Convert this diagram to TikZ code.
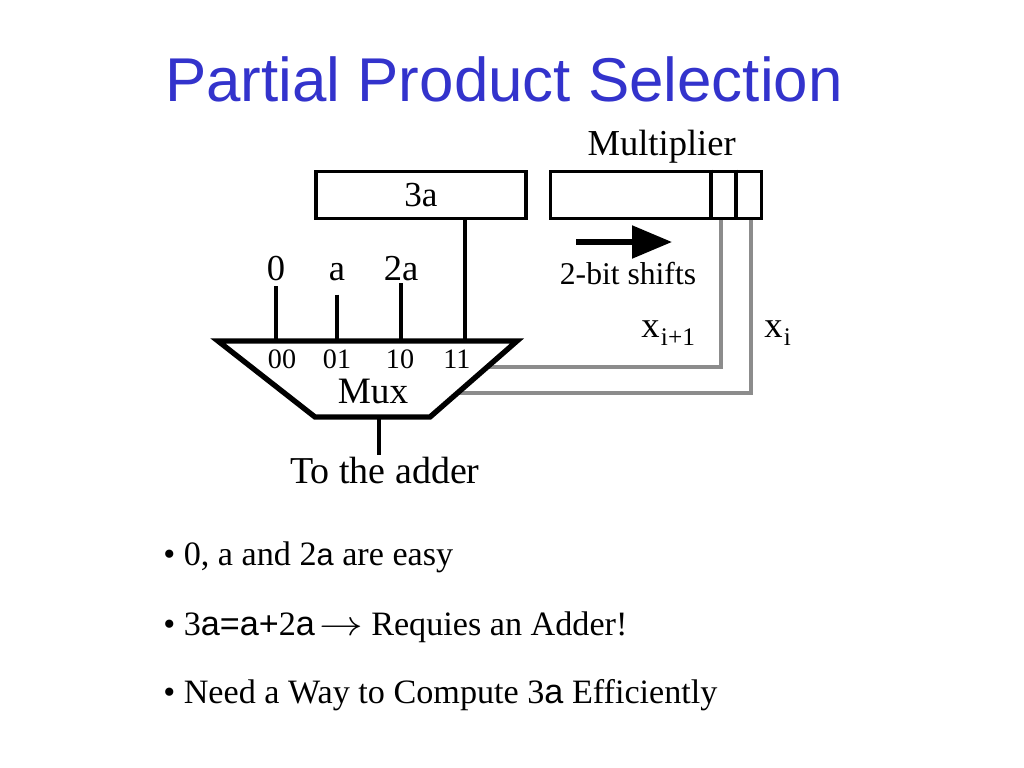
\documentclass[tikz,border=0pt]{standalone}
\usepackage{fontspec}
\setmainfont{Liberation Serif}
\newfontfamily\titlefont{Liberation Sans}
\newfontfamily\sansa{Liberation Sans}[Scale=0.9]
\newfontfamily\sansb{Liberation Sans}
\usepackage{xcolor}
\usetikzlibrary{arrows.meta, positioning, calc}
\definecolor{titleblue}{RGB}{51,51,204}
\definecolor{wiregray}{RGB}{140,140,140}

\begin{document}
\begin{tikzpicture}[x=0.025cm, y=-0.025cm, line join=miter,
    regbox/.style={draw, line width=2.6pt, inner sep=0pt, minimum height=1.175cm},
    wire/.style={line width=2.8pt},
    selwire/.style={line width=2.8pt, wiregray},
    lbl/.style={font=\fontsize{26}{26}\selectfont, inner sep=1pt},
    sellbl/.style={font=\fontsize{20}{20}\selectfont, inner sep=0pt},
    bulletline/.style={anchor=base west, inner sep=0pt, font=\fontsize{24.3}{24.3}\selectfont}]
  \useasboundingbox (0,0) rectangle (1024,768);
  % Titel
  \node[anchor=base, inner sep=0pt, font=\titlefont\fontsize{44}{44}\selectfont, text=titleblue] (title) at (504,102) {Partial Product Selection};
  % Register 3a und Multiplier
  \node[regbox, minimum width=5.25cm, font=\fontsize{25}{25}\selectfont] (threea) at (421,195) {3a};
  \node[regbox, minimum width=5.275cm] (mult) at (656,195) {};
  \node[lbl, above=4pt of mult, xshift=4pt, inner sep=0pt] (multlbl) {Multiplier};
  \draw[wire] ($(mult.north east)+(-52,0)$) -- ($(mult.south east)+(-52,0)$);
  \draw[wire] ($(mult.north east)+(-27,0)$) -- ($(mult.south east)+(-27,0)$);
  \coordinate (xbit1) at ($(mult.south east)+(-42,0)$);
  \coordinate (xbit0) at ($(mult.south east)+(-12,0)$);
  % Schiebepfeil
  \coordinate (sa) at (576,242);
  \coordinate (sb) at (672,242);
  \draw[line width=3.8pt, -{Triangle[length=1cm, width=0.8cm]}] (sa) -- (sb);
  \node[font=\fontsize{22.5}{22.5}\selectfont, inner sep=0pt] (shiftlbl) at (628,274) {2-bit shifts};
  % Mux
  \coordinate (m1) at (218,341);
  \coordinate (m2) at (517,341);
  \coordinate (m3) at (430,417);
  \coordinate (m4) at (315,417);
  \coordinate (mx1) at ($(m2)!0.34!(m3)$);
  \coordinate (mx2) at ($(m2)!0.68!(m3)$);
  \draw[selwire] (xbit1) |- (mx1);
  \draw[selwire] (xbit0) |- (mx2);
  \draw[line width=3.8pt] (m1) -- (m2) -- (m3) -- (m4) -- cycle;
  \node[lbl, font=\fontsize{26.5}{26.5}\selectfont] (muxlbl) at (373,391) {Mux};
  \foreach \x/\sx/\sel [count=\i] in {276/282/00, 337/337/01, 401/400/10, 465/457/11} {
    \coordinate (p\i) at (\x,341);
    \node[sellbl] (s\i) at (\sx,359) {\sel};
  }
  % Eingaenge
  \node[lbl, anchor=base, inner sep=4pt] (v1) at (276,280) {0};
  \node[lbl, anchor=base, inner sep=10pt] (v2) at (337,280) {a};
  \node[lbl, anchor=base, inner sep=2pt] (v3) at (401,280) {2a};
  \draw[wire] (v1.south) -- (p1);
  \draw[wire] (v2.south) -- (p2);
  \draw[wire] (v3.south) -- (p3);
  \draw[wire] (threea.south -| p4) -- (p4);
  % Steuerbits
  \node[lbl, anchor=base west, inner sep=0pt] (xlbl1) at (641,337) {x\kern1pt\raisebox{-6pt}{\fontsize{18}{18}\selectfont i+1}};
  \node[lbl, anchor=base west, inner sep=0pt] (xlbl0) at (764,337) {x\kern1pt\raisebox{-6pt}{\fontsize{18}{18}\selectfont i}};
  % Ausgang
  \coordinate (mout) at (379,417);
  \node[lbl, anchor=north, font=\fontsize{27}{27}\selectfont] (adder) at (385,455) {To the adder};
  \draw[wire] (mout) -- (adder.north -| mout);
  % Stichpunkte
  \node[bulletline] (b1) at (163,565) {• 0, a and 2{\sansa a} are easy};
  \node[bulletline] (b2) at (163,635) {• 3{\sansb a=a+}2{\sansb a}\kern3pt\scalebox{1.25}[1]{$\rightarrow$}\kern6pt Requies an Adder!};
  \node[bulletline] (b3) at (163,703) {• Need a Way to Compute 3{\sansb a} Efficiently};
\end{tikzpicture}
\end{document}
